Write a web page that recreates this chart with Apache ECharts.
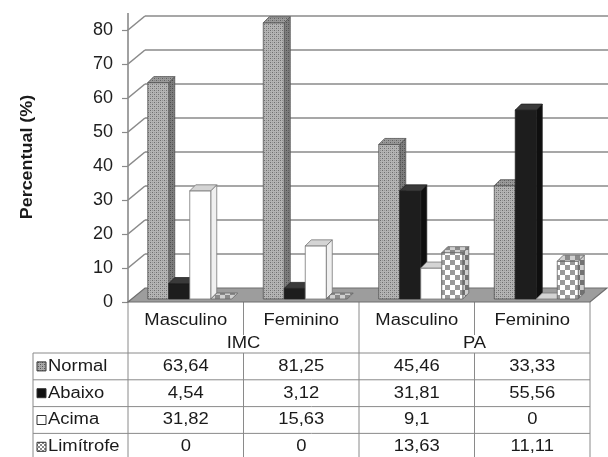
<!DOCTYPE html>
<html>
<head>
<meta charset="utf-8">
<script src="https://cdn.jsdelivr.net/npm/echarts@6/dist/echarts.min.js"></script>
<style>
  html, body { margin: 0; padding: 0; background: #fff; }
  #chart { width: 608px; height: 457px; }
</style>
</head>
<body>
<div id="chart"></div>
<script>
// ---- data ----
const groups = ['IMC', 'PA'];
const categories = ['Masculino', 'Feminino', 'Masculino', 'Feminino'];
const seriesNames = ['Normal', 'Abaixo', 'Acima', 'Limítrofe'];
const normal = [63.64, 81.25, 45.46, 33.33];
const abaixo = [4.54, 3.12, 31.81, 55.56];
const acima = [31.82, 15.63, 9.1, 0];
const limitrofe = [0, 0, 13.63, 11.11];
const yTicks = [0, 10, 20, 30, 40, 50, 60, 70, 80];
const seriesValues = [normal, abaixo, acima, limitrofe];

// ---- layout ----
const W = 608, H = 457;
const GRID = { left: 128, top: 30, right: 18, bottom: 155 };
const WALL_DEPTH = [17, -14];     // offset of the back wall
const BAR_SHIFT = [4, -3];        // bars stand a little behind the front edge
const BAR_DEPTH = [6, -6];
const BAR_W = 21;
const FONT = '"Liberation Sans", Arial, sans-serif';
const TEXT_STRETCH = 1.15;
const LINE = '#8a8a8a';

// ---- fill patterns ----
function pattern(size, draw) {
  const c = document.createElement('canvas');
  c.width = size; c.height = size;
  draw(c.getContext('2d'), size);
  return { image: c, repeat: 'repeat' };
}
// fine speckled grey
function speckle(base, dark, mid) {
  return pattern(4, (g) => {
    g.fillStyle = base; g.fillRect(0, 0, 4, 4);
    g.fillStyle = dark; g.fillRect(0, 0, 1, 1); g.fillRect(2, 2, 1, 1);
    g.fillStyle = mid; g.fillRect(2, 0, 1, 1); g.fillRect(0, 2, 1, 1);
  });
}
function checker(a, b, s) {
  return pattern(s * 2, (g) => {
    g.fillStyle = b; g.fillRect(0, 0, s * 2, s * 2);
    g.fillStyle = a; g.fillRect(0, 0, s, s); g.fillRect(s, s, s, s);
  });
}

const STYLES = [
  { front: speckle('#b4b4b4', '#6e6e6e', '#959595'), side: speckle('#7e7e7e', '#4e4e4e', '#666'), top: speckle('#9a9a9a', '#606060', '#808080'), stroke: '#555', key: speckle('#aaa', '#555', '#888') },
  { front: '#1d1d1d', side: '#0f0f0f', top: '#3a3a3a', stroke: '#222', key: '#111' },
  { front: '#ffffff', side: '#f0f0f0', top: '#d4d4d4', stroke: '#777', key: '#ffffff' },
  { front: checker('#9a9a9a', '#ffffff', 5), side: checker('#727272', '#cfcfcf', 5), top: checker('#8a8a8a', '#d0d0d0', 5), stroke: '#666', key: checker('#888', '#fff', 2) }
];

// ---- back wall, gridlines and floor ----
function renderWall(params, api) {
  const cs = params.coordSys;
  const v = api.value(0);
  const y = api.coord([0, v])[1];
  const gx = cs.x, gw = cs.width;
  const dx = WALL_DEPTH[0], dy = WALL_DEPTH[1];
  const lineStyle = { stroke: LINE, lineWidth: 1.6, fill: null };
  const children = [];
  if (v === 0) {
    children.push({
      type: 'polygon',
      shape: { points: [[gx, y], [gx + dx, y + dy], [gx + gw + dx, y + dy], [gx + gw, y]] },
      style: { fill: '#9d9d9d', stroke: '#6e6e6e', lineWidth: 1.2 }
    });
  } else {
    children.push({ type: 'line', shape: { x1: gx, y1: y, x2: gx + dx, y2: y + dy }, style: lineStyle });
    children.push({ type: 'line', shape: { x1: gx + dx, y1: y + dy, x2: W, y2: y + dy }, style: lineStyle });
  }
  if (v === yTicks[yTicks.length - 1]) {
    children.push({ type: 'line', shape: { x1: gx, y1: y - 17, x2: gx, y2: y }, style: lineStyle });
  }
  return { type: 'group', children: children };
}

// ---- 3D bars ----
function makeBarRenderer(k) {
  const st = STYLES[k];
  return function (params, api) {
    const idx = api.value(0), v = api.value(1);
    const base = api.coord([idx, 0]);
    const top = api.coord([idx, v]);
    const x0 = base[0] - (BAR_W * 4) / 2 + k * BAR_W + BAR_SHIFT[0];
    const yb = base[1] + BAR_SHIFT[1];
    const yt = top[1] + BAR_SHIFT[1];
    const dx = BAR_DEPTH[0], dy = BAR_DEPTH[1];
    const x1 = x0 + BAR_W;
    const children = [];
    if (yb - yt > 0.5) {
      children.push({
        type: 'polygon',
        shape: { points: [[x1, yt], [x1 + dx, yt + dy], [x1 + dx, yb + dy], [x1, yb]] },
        style: { fill: st.side, stroke: st.stroke, lineWidth: 0.8 }
      });
      children.push({
        type: 'rect',
        shape: { x: x0, y: yt, width: BAR_W, height: yb - yt },
        style: { fill: st.front, stroke: st.stroke, lineWidth: 0.8 }
      });
    }
    children.push({
      type: 'polygon',
      shape: { points: [[x0, yt], [x0 + dx, yt + dy], [x1 + dx, yt + dy], [x1, yt]] },
      style: { fill: st.top, stroke: st.stroke, lineWidth: 0.8 }
    });
    return { type: 'group', children: children };
  };
}

// ---- data table below the plot ----
function fmt(v) { return String(v).replace('.', ','); }

function buildTable() {
  const left = GRID.left, right = W - GRID.right;
  const floorY = H - GRID.bottom;
  const colW = (right - left) / categories.length;
  const labelLeft = 33;
  const rowTop = 353, rowH = 26.8;
  const bottom = rowTop + rowH * seriesNames.length;
  const ls = { stroke: LINE, lineWidth: 1 };
  const els = [];
  const line = (x1, y1, x2, y2) => els.push({ type: 'line', shape: { x1, y1, x2, y2 }, style: ls, silent: true });
  const text = (t, x, y, align, extra) => els.push({
    type: 'text', x: x, y: y, scaleX: TEXT_STRETCH,
    style: Object.assign({ text: t, font: '16px ' + FONT, fill: '#1a1a1a', align: align, verticalAlign: 'middle' }, extra || {})
  });

  // column borders
  for (let i = 0; i <= categories.length; i++) {
    const x = left + i * colW;
    if (i % 2 === 0) line(x, floorY, x, bottom);
    else { line(x, floorY, x, 335); line(x, rowTop, x, bottom); }
  }
  line(labelLeft, rowTop, labelLeft, bottom);
  for (let r = 0; r <= seriesNames.length; r++) {
    const y = rowTop + r * rowH;
    line(labelLeft, y, right, y);
  }

  // headers
  categories.forEach((c, i) => text(c, left + (i + 0.5) * colW, 321, 'center'));
  groups.forEach((g, i) => text(g, left + (i * 2 + 1) * colW, 344, 'center'));

  // rows
  seriesNames.forEach((name, r) => {
    const cy = rowTop + (r + 0.5) * rowH;
    els.push({
      type: 'rect', shape: { x: 37, y: cy - 4.5, width: 9, height: 9 },
      style: { fill: STYLES[r].key, stroke: '#333', lineWidth: 1 }
    });
    text(name, 48, cy, 'left');
    seriesValues[r].forEach((v, i) => text(fmt(v), left + (i + 0.5) * colW, cy, 'center'));
  });

  // axis title
  els.push({
    type: 'text', x: 28, y: 157, rotation: Math.PI / 2, scaleX: 1.12,
    style: { text: 'Percentual (%)', font: 'bold 16px ' + FONT, fill: '#1a1a1a', align: 'center', verticalAlign: 'middle' }
  });
  return els;
}

const chart = echarts.init(document.getElementById('chart'), null, { renderer: 'canvas' });
const series = [{
  type: 'custom',
  renderItem: renderWall,
  data: yTicks.map((t) => [t]),
  encode: { y: 0 },
  z: 1,
  silent: true
}];
seriesNames.forEach((name, k) => {
  series.push({
    type: 'custom',
    name: name,
    renderItem: makeBarRenderer(k),
    data: seriesValues[k].map((v, i) => [i, v]),
    encode: { x: 0, y: 1 },
    z: 3,
    silent: true
  });
});

chart.setOption({
  animation: false,
  backgroundColor: '#ffffff',
  grid: { left: GRID.left, top: GRID.top, right: GRID.right, bottom: GRID.bottom },
  xAxis: {
    type: 'category',
    data: categories.map((c, i) => i),
    axisLine: { show: false },
    axisTick: { show: false },
    axisLabel: { show: false },
    splitLine: { show: false }
  },
  yAxis: {
    type: 'value',
    min: 0, max: 80, interval: 10,
    axisLine: { show: true, lineStyle: { color: LINE, width: 1.6 } },
    axisTick: { show: true, length: 6, lineStyle: { color: LINE, width: 1.2 } },
    axisLabel: { fontSize: 18, fontFamily: FONT, color: '#1e1e1e', margin: 15 },
    splitLine: { show: false }
  },
  series: series,
  graphic: buildTable()
});
</script>
</body>
</html>
